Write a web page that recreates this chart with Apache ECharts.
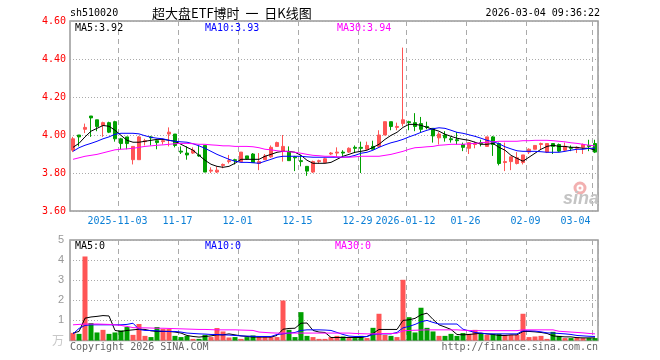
<!DOCTYPE html>
<html><head><meta charset="utf-8">
<script src="https://cdn.jsdelivr.net/npm/echarts@6/dist/echarts.min.js"></script>
<style>html,body{margin:0;padding:0;background:#fff}#c{width:660px;height:360px}</style>
</head><body><div id="c"></div>
<script>
const dates = ['2025-10-22','2025-10-23','2025-10-24','2025-10-27','2025-10-28','2025-10-29','2025-10-30','2025-10-31',
'2025-11-03','2025-11-04','2025-11-05','2025-11-06','2025-11-07','2025-11-10','2025-11-11','2025-11-12','2025-11-13','2025-11-14',
'2025-11-17','2025-11-18','2025-11-19','2025-11-20','2025-11-21','2025-11-24','2025-11-25','2025-11-26','2025-11-27','2025-11-28',
'2025-12-01','2025-12-02','2025-12-03','2025-12-04','2025-12-05','2025-12-08','2025-12-09','2025-12-10','2025-12-11','2025-12-12',
'2025-12-15','2025-12-16','2025-12-17','2025-12-18','2025-12-19','2025-12-22','2025-12-23','2025-12-24','2025-12-25','2025-12-26',
'2025-12-29','2025-12-30','2025-12-31','2026-01-05','2026-01-06','2026-01-07','2026-01-08','2026-01-09',
'2026-01-12','2026-01-13','2026-01-14','2026-01-15','2026-01-16','2026-01-19','2026-01-20','2026-01-21','2026-01-22','2026-01-23',
'2026-01-26','2026-01-27','2026-01-28','2026-01-29','2026-01-30','2026-02-02','2026-02-03','2026-02-04','2026-02-05','2026-02-06',
'2026-02-09','2026-02-10','2026-02-11','2026-02-12','2026-02-13','2026-02-24','2026-02-25','2026-02-26','2026-02-27',
'2026-03-02','2026-03-03','2026-03-04'];

const opens = [3.92,4.00,4.03,4.10,4.08,4.05,4.065,4.07,3.98,3.99,
3.87,3.87,3.965,3.99,3.97,3.965,4.005,4.005,3.915,3.905,
3.905,3.895,3.945,3.81,3.805,3.84,3.86,3.87,3.86,3.89,
3.90,3.85,3.87,3.885,3.94,3.915,3.91,3.885,3.865,3.835,
3.805,3.86,3.855,3.90,3.905,3.91,3.91,3.935,3.935,3.925,
3.94,3.94,4.00,4.07,4.04,4.06,4.07,4.065,4.06,4.045,
4.035,3.985,4.00,3.98,3.975,3.95,3.93,3.95,3.96,3.94,
3.99,3.955,3.855,3.86,3.85,3.855,3.91,3.925,3.95,3.91,
3.955,3.95,3.92,3.935,3.93,3.935,3.945,3.955];
const closes = [3.98,3.99,4.04,4.09,4.045,4.065,4.015,3.98,3.955,3.955,
3.94,3.99,3.97,3.985,3.96,3.97,4.015,3.945,3.91,3.895,
3.92,3.89,3.805,3.815,3.815,3.845,3.865,3.865,3.91,3.875,
3.855,3.86,3.89,3.935,3.96,3.94,3.865,3.88,3.86,3.81,
3.86,3.865,3.875,3.905,3.91,3.905,3.93,3.93,3.93,3.945,
3.925,4.00,4.07,4.045,4.045,4.08,4.065,4.045,4.03,4.04,
3.995,4.005,3.985,3.975,3.97,3.935,3.96,3.955,3.955,3.99,
3.95,3.85,3.86,3.885,3.88,3.895,3.925,3.945,3.955,3.955,
3.94,3.915,3.94,3.93,3.935,3.95,3.94,3.91];
const lows = [3.91,3.94,4.01,3.99,4.02,3.99,4.01,3.965,3.925,3.925,
3.845,3.87,3.945,3.945,3.925,3.95,3.94,3.935,3.90,3.87,
3.90,3.885,3.805,3.80,3.80,3.825,3.85,3.845,3.86,3.87,
3.855,3.815,3.87,3.88,3.94,3.86,3.865,3.81,3.835,3.785,
3.80,3.85,3.855,3.895,3.885,3.89,3.905,3.905,3.80,3.92,
3.925,3.94,4.00,4.025,4.025,4.045,4.025,4.02,4.015,4.03,
3.96,3.95,3.965,3.96,3.95,3.915,3.90,3.93,3.94,3.94,
3.89,3.84,3.81,3.815,3.845,3.845,3.90,3.925,3.925,3.905,
3.90,3.91,3.915,3.915,3.905,3.90,3.915,3.905];
const highs = [3.99,4.00,4.06,4.10,4.08,4.07,4.07,4.075,3.985,3.99,
3.94,3.995,3.98,3.995,3.97,3.98,4.04,4.005,3.94,3.94,
3.935,3.945,3.945,3.83,3.835,3.85,3.895,3.875,3.91,3.89,
3.905,3.905,3.90,3.945,3.965,4.00,3.94,3.89,3.895,3.835,
3.865,3.87,3.88,3.91,3.935,3.92,3.935,3.945,3.965,3.965,
3.97,4.025,4.07,4.07,4.065,4.46,4.075,4.115,4.095,4.07,
4.035,4.015,4.02,3.99,4.015,3.96,3.96,3.965,3.975,3.99,
3.995,3.96,3.96,3.885,3.91,3.895,3.93,3.945,3.96,3.955,
3.955,3.955,3.96,3.945,3.94,3.955,3.975,3.975];

const ma5 = [3.935,3.956,3.99,4.02,4.035,4.05,4.046,4.025,3.998,3.972,
3.962,3.962,3.967,3.972,3.977,3.977,3.972,3.967,3.951,3.935,
3.92,3.893,3.867,3.846,3.835,3.83,3.835,3.851,3.872,3.872,
3.872,3.872,3.888,3.898,3.909,3.914,3.914,3.909,3.893,3.867,
3.851,3.851,3.851,3.856,3.872,3.888,3.898,3.909,3.914,3.92,
3.935,3.951,3.977,3.998,4.014,4.04,4.056,4.056,4.051,4.04,
4.03,4.02,4.004,3.993,3.983,3.977,3.972,3.962,3.951,3.951,
3.956,3.935,3.92,3.893,3.877,3.862,3.883,3.904,3.925,3.94,
3.946,3.94,3.94,3.935,3.935,3.93,3.93,3.92];
const ma10 = [3.914,3.933,3.946,3.956,3.967,3.98,3.99,4.004,4.009,4.009,
4.009,4.006,3.996,3.988,3.983,3.98,3.972,3.967,3.964,3.962,
3.954,3.943,3.93,3.914,3.898,3.885,3.872,3.862,3.856,3.856,
3.854,3.851,3.862,3.872,3.883,3.888,3.888,3.888,3.888,3.885,
3.883,3.883,3.883,3.883,3.883,3.883,3.885,3.893,3.904,3.909,
3.92,3.935,3.948,3.959,3.967,3.977,3.99,4.001,4.014,4.025,
4.033,4.038,4.035,4.025,4.014,4.009,4.001,3.993,3.983,3.972,
3.964,3.954,3.938,3.927,3.917,3.914,3.914,3.914,3.912,3.909,
3.909,3.909,3.914,3.92,3.925,3.925,3.93,3.93];
const ma30 = [3.872,3.88,3.888,3.893,3.898,3.906,3.914,3.922,3.925,3.927,
3.93,3.935,3.94,3.943,3.946,3.948,3.951,3.954,3.956,3.956,
3.954,3.951,3.951,3.948,3.946,3.943,3.943,3.94,3.94,3.94,
3.938,3.933,3.925,3.922,3.917,3.914,3.912,3.909,3.904,3.898,
3.893,3.891,3.888,3.888,3.885,3.883,3.883,3.885,3.888,3.888,
3.888,3.888,3.893,3.898,3.906,3.914,3.925,3.933,3.935,3.938,
3.94,3.946,3.948,3.951,3.951,3.951,3.954,3.956,3.959,3.962,
3.964,3.967,3.967,3.967,3.967,3.97,3.97,3.972,3.972,3.972,
3.97,3.967,3.964,3.959,3.956,3.951,3.946,3.943];

const volumes = [0.38,0.33,4.18,0.87,0.40,0.53,0.33,0.40,0.50,0.67,
0.28,0.82,0.23,0.17,0.67,0.57,0.57,0.23,0.17,0.23,
0.08,0.08,0.28,0.17,0.62,0.45,0.15,0.17,0.08,0.17,
0.25,0.17,0.17,0.17,0.17,1.99,0.53,0.17,1.41,0.23,
0.17,0.08,0.08,0.17,0.23,0.20,0.12,0.12,0.23,0.12,
0.63,1.33,0.28,0.23,0.17,3.02,1.16,0.40,1.63,0.63,
0.45,0.23,0.23,0.33,0.23,0.37,0.33,0.53,0.37,0.28,
0.33,0.33,0.28,0.28,0.28,1.33,0.17,0.20,0.23,0.08,
0.43,0.23,0.12,0.12,0.17,0.12,0.12,0.12];
const volMa5 = [0.37,0.45,1.11,1.17,1.2,1.24,1.22,0.5,0.45,0.5,
0.53,0.56,0.55,0.48,0.45,0.45,0.45,0.42,0.37,0.25,
0.2,0.17,0.2,0.23,0.28,0.28,0.33,0.28,0.23,0.2,
0.17,0.17,0.17,0.17,0.25,0.56,0.6,0.61,0.86,0.87,
0.5,0.42,0.4,0.15,0.15,0.15,0.15,0.15,0.15,0.2,
0.35,0.55,0.55,0.55,0.55,1.0,1.03,1.1,1.28,1.36,
1.05,0.78,0.67,0.55,0.3,0.28,0.3,0.33,0.36,0.33,
0.3,0.25,0.25,0.28,0.28,0.45,0.45,0.43,0.40,0.35,
0.23,0.2,0.18,0.18,0.14,0.13,0.13,0.13];
const volMa10 = [0.33,0.6,0.75,0.78,0.78,0.78,0.78,0.78,0.78,0.8,
0.86,0.55,0.5,0.5,0.48,0.46,0.45,0.45,0.42,0.37,
0.35,0.33,0.32,0.3,0.3,0.28,0.27,0.25,0.23,0.22,
0.21,0.2,0.2,0.2,0.3,0.33,0.37,0.4,0.5,0.53,
0.53,0.53,0.52,0.5,0.4,0.3,0.22,0.2,0.2,0.2,
0.3,0.33,0.33,0.33,0.4,0.63,0.7,0.8,0.93,1.0,
0.9,0.82,0.82,0.82,0.82,0.56,0.48,0.4,0.37,0.33,
0.33,0.33,0.33,0.33,0.33,0.48,0.48,0.47,0.43,0.38,
0.37,0.35,0.33,0.3,0.25,0.23,0.21,0.2];
const volMa30 = [0.78,0.8,0.82,0.82,0.82,0.81,0.8,0.78,0.75,0.7,
0.64,0.63,0.63,0.62,0.61,0.61,0.6,0.59,0.58,0.57,
0.56,0.55,0.55,0.54,0.53,0.53,0.53,0.53,0.52,0.51,
0.5,0.42,0.4,0.38,0.37,0.37,0.37,0.37,0.37,0.37,
0.37,0.37,0.37,0.37,0.37,0.37,0.37,0.35,0.34,0.33,
0.33,0.34,0.35,0.35,0.36,0.48,0.5,0.51,0.52,0.53,
0.53,0.53,0.53,0.53,0.53,0.51,0.5,0.49,0.49,0.49,
0.49,0.49,0.49,0.49,0.49,0.53,0.53,0.53,0.53,0.53,
0.53,0.46,0.44,0.42,0.4,0.38,0.35,0.33];

const dateMarks = ['2025-11-03','2025-11-17','2025-12-01','2025-12-15','2025-12-29','2026-01-12','2026-01-26','2026-02-09','2026-03-04'];
const dateMarkLabels = ['2025-11-03','11-17','12-01','12-15','12-29','2026-01-12','01-26','02-09','03-04'];
const priceMin = 3.6, priceMax = 4.6, priceStep = 0.2;
const volMin = 0, volMax = 5, volStep = 1;

const RED = '#ff5555', GREEN = '#00a000';
const MONO = '"DejaVu Sans Mono", "Liberation Mono", monospace';
const CJK = '"Noto Sans CJK SC", sans-serif';
const markIdx = dateMarks.map(d => dates.indexOf(d));
const isMark = (i) => markIdx.indexOf(i) >= 0;
const lastIdx = dates.length - 1;

const chart = echarts.init(document.getElementById('c'));
const candleData = dates.map((d, i) => [opens[i], closes[i], lows[i], highs[i]]);
const volData = volumes.map((v, i) => ({ value: v, itemStyle: { color: closes[i] >= opens[i] ? RED : GREEN } }));

const splitV = { show: true, interval: (i) => isMark(i), lineStyle: { color: '#aaa', type: [5, 4], width: 1 } };
const splitH = { show: true, lineStyle: { color: '#aaa', type: [1, 2], width: 1 } };
const fmt2 = (v) => v.toFixed(2);

function lineSeries(data, color, xi, yi) {
  return { type: 'line', data, xAxisIndex: xi, yAxisIndex: yi, symbol: 'none', showSymbol: false,
    lineStyle: { color, width: 1 }, itemStyle: { color }, silent: true, z: 3 };
}
function txt(text, x, y, fill, font, align) {
  return { type: 'text', x, y, silent: true, z: 100,
    style: { text, fill, font, textAlign: align || 'left', align: align || 'left', textVerticalAlign: 'middle', verticalAlign: 'middle' } };
}

chart.setOption({
  animation: false,
  backgroundColor: '#fff',
  grid: [
    { left: 70, top: 21, width: 528, height: 190, show: true, borderColor: '#999', borderWidth: 1.5, backgroundColor: 'transparent', containLabel: false, outerBoundsMode: 'none' },
    { left: 70, top: 240, width: 528, height: 100.5, show: true, borderColor: '#999', borderWidth: 1.5, backgroundColor: 'transparent', containLabel: false, outerBoundsMode: 'none' }
  ],
  xAxis: [
    { type: 'category', gridIndex: 0, data: dates, boundaryGap: true,
      axisLine: { show: false }, axisTick: { show: false }, splitLine: splitV,
      axisLabel: { show: true, interval: (i) => isMark(i), margin: 5, color: '#0a7fd6', fontFamily: MONO, fontSize: 10,
        formatter: (v, i) => {
          const t = dateMarkLabels[dateMarks.indexOf(v)];
          return (dates.indexOf(v) === lastIdx ? '{r|' : '{l|') + t + '}';
        },
        rich: { l: { padding: [0, 7, 0, 0], color: '#0a7fd6', fontFamily: MONO, fontSize: 10 },
                r: { padding: [0, 39, 0, 0], color: '#0a7fd6', fontFamily: MONO, fontSize: 10 } } } },
    { type: 'category', gridIndex: 1, data: dates, boundaryGap: true,
      axisLine: { show: false }, axisTick: { show: false }, axisLabel: { show: false }, splitLine: splitV }
  ],
  yAxis: [
    { type: 'value', gridIndex: 0, min: priceMin, max: priceMax, interval: priceStep, scale: true,
      axisLine: { show: false }, axisTick: { show: false }, splitLine: splitH,
      axisLabel: { color: '#ff0000', fontFamily: MONO, fontSize: 10, margin: 4, formatter: fmt2 } },
    { type: 'value', gridIndex: 1, min: volMin, max: volMax, interval: volStep,
      axisLine: { show: false }, axisTick: { show: false }, splitLine: splitH,
      axisLabel: { color: '#999', fontFamily: '"Liberation Sans", sans-serif', fontSize: 11, margin: 6,
        formatter: (v) => v === 0 ? '{w|万}' : String(v),
        rich: { w: { color: '#c8c8c8', fontFamily: CJK, fontSize: 12 } } } }
  ],
  series: [
    { type: 'candlestick', xAxisIndex: 0, yAxisIndex: 0, data: candleData, barWidth: 4, z: 2,
      itemStyle: { color: RED, color0: GREEN, borderColor: RED, borderColor0: GREEN, borderWidth: 1 } },
    lineSeries(ma5, '#000000', 0, 0),
    lineSeries(ma10, '#0000ff', 0, 0),
    lineSeries(ma30, '#ff00ff', 0, 0),
    { type: 'bar', xAxisIndex: 1, yAxisIndex: 1, data: volData, barWidth: 5, z: 2 },
    lineSeries(volMa5, '#000000', 1, 1),
    lineSeries(volMa10, '#0000ff', 1, 1),
    lineSeries(volMa30, '#ff00ff', 1, 1)
  ],
  graphic: [
    txt('sh510020', 70, 13, '#000', '10px ' + MONO),
    txt('超大盘ETF博时  一  日K线图', 152, 13, '#000', '13px ' + CJK),
    txt('2026-03-04 09:36:22', 600, 13, '#000', '10px ' + MONO, 'right'),
    txt('MA5:' + ma5[lastIdx].toFixed(2), 75, 28, '#000', '10px ' + MONO),
    txt('MA10:' + ma10[lastIdx].toFixed(2), 205, 28, '#0000ff', '10px ' + MONO),
    txt('MA30:' + ma30[lastIdx].toFixed(2), 337, 28, '#ff00ff', '10px ' + MONO),
    txt('MA5:0', 75, 246, '#000', '10px ' + MONO),
    txt('MA10:0', 205, 246, '#0000ff', '10px ' + MONO),
    txt('MA30:0', 335, 246, '#ff00ff', '10px ' + MONO),
    txt('Copyright 2026 SINA.COM', 70, 347, '#666', '10px ' + MONO),
    txt('http://finance.sina.com.cn', 598, 347, '#666', '10px ' + MONO, 'right'),
    { type: 'circle', shape: { cx: 580, cy: 188, r: 5 }, silent: true, z: 1,
      style: { fill: 'none', stroke: '#f2b0b0', lineWidth: 3 } },
    { type: 'circle', shape: { cx: 580, cy: 188, r: 1.5 }, silent: true, z: 1, style: { fill: '#f2b0b0' } },
    txt('sina', 581, 199, '#c4c4c4', 'italic bold 18px "Liberation Sans", sans-serif', 'center')
  ]
});
</script></body></html>
